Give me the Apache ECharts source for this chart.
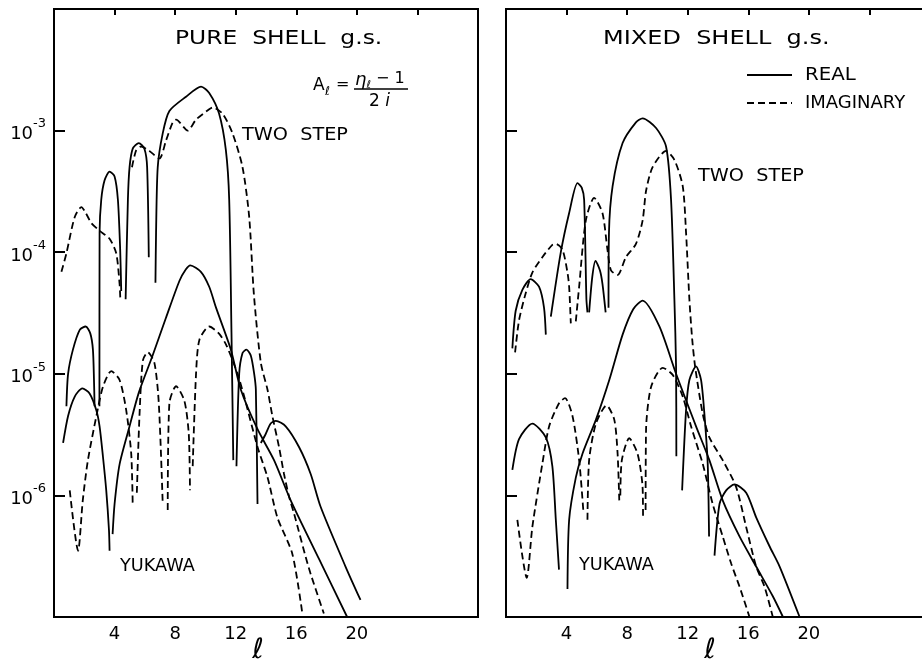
<!DOCTYPE html>
<html>
<head>
<meta charset="utf-8">
<script src="https://cdn.jsdelivr.net/npm/echarts@6/dist/echarts.min.js"></script>
<style>
  html, body { margin: 0; padding: 0; background: #fff; }
  #chart { width: 922px; height: 664px; }
</style>
</head>
<body>
<div id="chart"></div>
<script>
// Partial-wave amplitudes |A_l| versus l, log scale.
// Each curve is a list of strokes; each stroke is a list of [l, |A_l|] points.

const xTickLabels = [4, 8, 12, 16, 20];
const yLabelExponents = [-3, -4, -5, -6];

// PURE SHELL g.s.
const pureTwoStepReal = [
  [[0.82, 5.4e-6], [0.93, 1.0e-5], [1.25, 1.58e-5], [1.7, 2.3e-5], [2.09, 2.45e-5], [2.4, 2.14e-5], [2.57, 1.58e-5], [2.64, 8.9e-6], [2.68, 5.4e-6]],
  [[3.0, 5.4e-6], [3.01, 1.45e-4], [3.12, 2.7e-4], [3.34, 3.9e-4], [3.67, 4.6e-4], [4.0, 4.2e-4], [4.22, 2.7e-4], [4.37, 1.05e-4], [4.44, 4.8e-5]],
  [[4.73, 4.1e-5], [4.88, 2.7e-4], [4.99, 5.0e-4], [5.2, 7.1e-4], [5.6, 7.9e-4], [5.97, 7.1e-4], [6.15, 5.0e-4], [6.26, 9.1e-5]],
  [[6.7, 5.6e-5], [6.74, 1.45e-4], [6.85, 5.0e-4], [7.18, 9.5e-4], [7.62, 1.45e-3], [8.72, 1.9e-3], [9.71, 2.3e-3], [10.25, 2.04e-3], [10.9, 1.38e-3], [11.35, 6.9e-4], [11.57, 2.7e-4], [11.72, 2.2e-5], [11.84, 1.95e-6]],
  [[12.05, 1.74e-6], [12.23, 1.0e-5], [12.45, 1.48e-5], [12.71, 1.58e-5], [13.0, 1.41e-5], [13.22, 1.0e-5], [13.33, 7.4e-6], [13.44, 8.5e-7]],
  [[13.66, 2.7e-6], [13.98, 3.2e-6], [14.31, 3.9e-6], [14.65, 4.1e-6], [15.3, 3.7e-6], [16.18, 2.5e-6], [16.95, 1.5e-6], [17.6, 8.1e-7], [19.25, 2.6e-7], [20.24, 1.38e-7]]
];
const pureTwoStepImag = [
  [[0.49, 6.9e-5], [0.82, 9.8e-5], [1.37, 1.95e-4], [1.81, 2.35e-4], [2.1, 2.1e-4], [2.46, 1.74e-4], [3.01, 1.5e-4], [3.67, 1.29e-4], [4.11, 9.8e-5], [4.33, 5.5e-5], [4.38, 4.1e-5]],
  [[5.15, 5.0e-4], [5.43, 6.9e-4], [5.76, 7.4e-4], [6.3, 6.8e-4], [6.96, 5.9e-4], [7.4, 8.3e-4], [7.84, 1.17e-3], [8.06, 1.23e-3], [8.83, 1.0e-3], [9.38, 1.23e-3], [10.25, 1.5e-3], [10.47, 1.55e-3], [11.13, 1.38e-3], [11.79, 9.5e-4], [12.45, 5.0e-4], [12.89, 1.95e-4], [13.2, 4.5e-5], [13.66, 1.23e-5], [14.1, 7.4e-6], [14.42, 4.5e-6], [14.86, 2.5e-6], [15.19, 1.5e-6], [15.52, 9.8e-7], [15.85, 7.1e-7], [16.84, 2.5e-7], [17.82, 1.07e-7]]
];
const pureYukawaReal = [
  [[0.6, 2.7e-6], [0.93, 4.5e-6], [1.37, 6.5e-6], [1.87, 7.6e-6], [2.35, 6.9e-6], [2.8, 5.0e-6], [3.01, 3.7e-6], [3.23, 2.1e-6], [3.45, 1.1e-6], [3.63, 5.2e-7], [3.67, 3.5e-7]],
  [[3.87, 4.8e-7], [4.0, 8.5e-7], [4.33, 1.8e-6], [4.99, 3.7e-6], [5.6, 7.0e-6], [6.5, 1.4e-5], [7.4, 2.9e-5], [8.28, 5.8e-5], [8.7, 7.2e-5], [9.0, 7.8e-5], [9.7, 6.9e-5], [10.25, 5.2e-5], [10.7, 3.5e-5], [11.68, 1.58e-5], [12.34, 7.4e-6], [13.44, 3.5e-6], [14.53, 1.95e-6], [15.63, 9.1e-7], [17.5, 3.0e-7], [19.36, 1.0e-7]]
];
const pureYukawaImag = [
  [[1.04, 1.1e-6], [1.59, 3.5e-7], [1.9, 9.1e-7], [2.24, 1.95e-6], [2.8, 4.5e-6], [3.23, 7.8e-6], [3.78, 1.05e-5], [4.33, 8.9e-6], [4.77, 5.0e-6], [5.1, 2.2e-6], [5.2, 8.1e-7]],
  [[5.47, 1.05e-6], [5.65, 4.7e-6], [5.87, 1.29e-5], [6.19, 1.5e-5], [6.63, 1.23e-5], [6.92, 5.75e-6], [7.18, 8.5e-7]],
  [[7.51, 7.6e-7], [7.62, 5.75e-6], [8.06, 7.9e-6], [8.61, 6.0e-6], [8.9, 3.2e-6], [8.98, 1.1e-6]],
  [[9.16, 1.74e-6], [9.38, 1.0e-5], [9.6, 1.9e-5], [10.25, 2.45e-5], [10.9, 2.14e-5], [11.4, 1.7e-5], [12.12, 1.0e-5], [12.56, 6.5e-6], [13.44, 2.5e-6], [14.1, 1.41e-6], [14.75, 6.6e-7], [15.74, 3.3e-7], [16.4, 1.07e-7]]
];

// MIXED SHELL g.s.
const mixedTwoStepReal = [
  [[0.42, 1.62e-5], [0.64, 3.3e-5], [1.08, 4.9e-5], [1.63, 6.0e-5], [2.18, 5.2e-5], [2.51, 3.5e-5], [2.63, 2.1e-5]],
  [[2.96, 2.95e-5], [3.62, 1.0e-4], [4.17, 2.1e-4], [4.72, 3.7e-4], [5.0, 3.4e-4], [5.16, 2.7e-4], [5.31, 4.1e-5], [5.38, 3.2e-5]],
  [[5.49, 3.2e-5], [5.7, 6.3e-5], [5.91, 8.5e-5], [6.2, 7.1e-5], [6.37, 5.5e-5], [6.58, 3.2e-5]],
  [[6.77, 3.5e-5], [6.8, 1.45e-4], [7.04, 3.5e-4], [7.7, 7.9e-4], [8.58, 1.17e-3], [9.02, 1.26e-3], [9.91, 1.05e-3], [10.57, 7.4e-4], [10.9, 2.7e-4], [11.12, 4.1e-5], [11.23, 1.15e-5], [11.25, 2.1e-6]],
  [[11.63, 1.1e-6], [11.89, 5.0e-6], [12.11, 8.9e-6], [12.55, 1.15e-5], [12.88, 8.9e-6], [13.1, 4.7e-6], [13.32, 1.82e-6], [13.41, 4.6e-7]],
  [[13.77, 3.2e-7], [14.1, 8.5e-7], [14.54, 1.1e-6], [15.09, 1.23e-6], [15.86, 1.05e-6], [16.52, 6.6e-7], [17.41, 3.8e-7], [18.07, 2.6e-7], [19.39, 1.0e-7]]
];
const mixedTwoStepImag = [
  [[0.6, 1.5e-5], [0.86, 2.75e-5], [1.3, 4.6e-5], [1.74, 6.8e-5], [2.4, 9.1e-5], [3.06, 1.15e-4], [3.29, 1.17e-4], [3.73, 1.05e-4], [4.06, 6.8e-5], [4.17, 5.2e-5], [4.28, 2.6e-5]],
  [[4.61, 2.7e-5], [4.83, 5.2e-5], [5.27, 1.82e-4], [5.82, 2.8e-4], [6.37, 2.1e-4], [6.7, 1.05e-4], [6.93, 7.1e-5], [7.37, 6.5e-5], [7.92, 9.1e-5], [8.58, 1.17e-4], [9.02, 1.82e-4], [9.25, 3.2e-4], [9.68, 5.0e-4], [10.57, 6.8e-4], [11.12, 5.75e-4], [11.67, 3.5e-4], [11.89, 1.45e-4], [12.11, 4.1e-5], [12.3, 1.9e-5], [12.5, 1.12e-5], [12.99, 4.7e-6], [13.43, 3.0e-6], [14.31, 1.95e-6], [15.2, 1.17e-6], [15.86, 5.5e-7], [16.52, 2.6e-7], [17.07, 1.78e-7], [17.62, 1.0e-7]]
];
const mixedYukawaReal = [
  [[0.42, 1.62e-6], [0.86, 2.9e-6], [1.74, 3.9e-6], [2.63, 3.0e-6], [3.06, 1.74e-6], [3.29, 6.3e-7], [3.5, 2.45e-7]],
  [[4.06, 1.7e-7], [4.17, 6.3e-7], [4.61, 1.4e-6], [5.05, 2.2e-6], [5.94, 4.2e-6], [6.82, 8.9e-6], [7.7, 2.1e-5], [8.4, 3.4e-5], [9.02, 4.0e-5], [10.13, 2.45e-5], [11.23, 1.0e-5], [12.55, 3.7e-6], [13.43, 1.95e-6], [14.31, 9.1e-7], [15.42, 4.6e-7], [16.52, 2.6e-7], [17.62, 1.48e-7], [18.29, 1.0e-7]]
];
const mixedYukawaImag = [
  [[0.75, 6.3e-7], [1.37, 2.1e-7], [1.74, 5.5e-7], [2.4, 1.82e-6], [2.85, 3.7e-6], [3.51, 5.75e-6], [3.9, 6.3e-6], [4.39, 4.5e-6], [4.83, 1.95e-6], [5.12, 7.1e-7]],
  [[5.38, 6.3e-7], [5.49, 1.95e-6], [5.94, 3.9e-6], [6.64, 5.5e-6], [7.15, 4.2e-6], [7.37, 2.2e-6], [7.48, 9.1e-7]],
  [[7.55, 1.0e-6], [7.65, 1.95e-6], [8.14, 2.95e-6], [8.69, 2.2e-6], [9.02, 1.17e-6], [9.05, 6.3e-7]],
  [[9.22, 7.6e-7], [9.25, 3.5e-6], [9.58, 7.8e-6], [10.35, 1.12e-5], [11.01, 9.8e-6], [11.67, 6.5e-6], [12.22, 3.7e-6], [12.99, 1.82e-6], [13.65, 8.5e-7], [14.31, 4.6e-7], [14.87, 2.75e-7], [15.42, 1.78e-7], [16.08, 1.0e-7]]
];

const INK = '#000';
const FONT = '"DejaVu Sans", "Liberation Sans", sans-serif';
const solidStyle = { color: INK, width: 1.8, type: 'solid' };
const dashedStyle = { color: INK, width: 1.8, type: [7, 4] };

function strokeSeries(curve, panel, kind) {
  return curve.map(points => ({
    type: 'line',
    name: kind,
    xAxisIndex: panel * 2,
    yAxisIndex: panel,
    data: points,
    symbol: 'none',
    showSymbol: false,
    smooth: 0.25,
    color: INK,
    lineStyle: kind === 'REAL' ? solidStyle : dashedStyle,
    silent: true,
    animation: false
  }));
}

const series = [].concat(
  strokeSeries(pureTwoStepReal, 0, 'REAL'),
  strokeSeries(pureTwoStepImag, 0, 'IMAGINARY'),
  strokeSeries(pureYukawaReal, 0, 'REAL'),
  strokeSeries(pureYukawaImag, 0, 'IMAGINARY'),
  strokeSeries(mixedTwoStepReal, 1, 'REAL'),
  strokeSeries(mixedTwoStepImag, 1, 'IMAGINARY'),
  strokeSeries(mixedYukawaReal, 1, 'REAL'),
  strokeSeries(mixedYukawaImag, 1, 'IMAGINARY')
);

function bottomAxis(grid) {
  return {
    type: 'value', gridIndex: grid, position: 'bottom',
    min: 0, max: 28, interval: 4,
    axisLine: { show: false }, axisTick: { show: false }, splitLine: { show: false },
    axisLabel: {
      margin: 8, color: INK, fontSize: 18, fontFamily: FONT,
      formatter: v => xTickLabels.includes(v) ? String(v) : ''
    }
  };
}
function topAxis(grid) {
  return {
    type: 'value', gridIndex: grid, position: 'top',
    min: 0, max: 28, interval: 4,
    axisLine: { show: false }, splitLine: { show: false }, axisLabel: { show: false },
    axisTick: { show: true, inside: true, length: 6, lineStyle: { color: INK, width: 2 } }
  };
}
function logAxis(grid, labelled) {
  return {
    type: 'log', logBase: 10, gridIndex: grid,
    min: 1e-7, max: 1e-2,
    axisLine: { show: false }, splitLine: { show: false },
    axisTick: { show: true, inside: true, length: 11, lineStyle: { color: INK, width: 2 } },
    axisLabel: {
      show: labelled, margin: 8, color: INK, fontFamily: FONT,
      formatter: v => {
        const e = Math.round(Math.log10(v));
        return yLabelExponents.includes(e) ? '{b|10}{s|' + e + '}' : '';
      },
      rich: {
        b: { fontSize: 18, fontFamily: FONT, color: INK, lineHeight: 26, verticalAlign: 'bottom' },
        s: { fontSize: 13, fontFamily: FONT, color: INK, lineHeight: 26, verticalAlign: 'top' }
      }
    }
  };
}

function label(text, x, y, size, scaleX) {
  return {
    type: 'text', x: x, y: y, scaleX: scaleX || 1, silent: true,
    style: { text: text, font: size + 'px ' + FONT, fill: INK, textAlign: 'left', textVerticalAlign: 'middle' }
  };
}

const graphic = [
  label('PURE  SHELL  g.s.', 175, 39, 20, 1.17),
  label('MIXED  SHELL  g.s.', 603, 39, 20, 1.2),
  label('TWO  STEP', 242, 135, 18, 1.07),
  label('TWO  STEP', 698, 176, 18, 1.07),
  label('YUKAWA', 120, 567, 17, 1.04),
  label('YUKAWA', 579, 566, 17, 1.04),
  // legend: line style key
  { type: 'line', silent: true, shape: { x1: 747, y1: 75, x2: 792, y2: 75 }, style: { stroke: INK, lineWidth: 1.8 } },
  { type: 'line', silent: true, shape: { x1: 747, y1: 103, x2: 792, y2: 103 }, style: { stroke: INK, lineWidth: 1.8, lineDash: [7, 4] } },
  label('REAL', 805, 75, 18, 1.1),
  label('IMAGINARY', 805, 103, 18, 1.0),
  // A_l = (eta_l - 1) / 2i
  label('A', 313, 86, 17, 1),
  label('ℓ', 325, 92, 12, 1),
  label('=', 336, 85, 16, 1),
  {
    type: 'text', x: 355, y: 81, silent: true,
    style: {
      text: '{e|η}{l|ℓ}{n| − 1}', fill: INK, textAlign: 'left', textVerticalAlign: 'middle',
      rich: {
        e: { font: 'italic 18px ' + FONT, fill: INK, lineHeight: 20, verticalAlign: 'top' },
        l: { font: '11px ' + FONT, fill: INK, lineHeight: 20, verticalAlign: 'bottom' },
        n: { font: '16px ' + FONT, fill: INK, lineHeight: 20, verticalAlign: 'top' }
      }
    }
  },
  { type: 'line', silent: true, shape: { x1: 354, y1: 89, x2: 408, y2: 89 }, style: { stroke: INK, lineWidth: 1.6 } },
  {
    type: 'text', x: 369, y: 102, silent: true,
    style: {
      text: '{d|2}{i| i}', fill: INK, textAlign: 'left', textVerticalAlign: 'middle',
      rich: { d: { font: '17px ' + FONT, fill: INK }, i: { font: 'italic 17px ' + FONT, fill: INK } }
    }
  },
  // axis variable under each panel
  { type: 'text', x: 258, y: 651, silent: true, style: { text: 'ℓ', font: 'italic 28px ' + FONT, fill: INK, textAlign: 'center', textVerticalAlign: 'middle' } },
  { type: 'text', x: 710, y: 651, silent: true, style: { text: 'ℓ', font: 'italic 28px ' + FONT, fill: INK, textAlign: 'center', textVerticalAlign: 'middle' } }
];

const chart = echarts.init(document.getElementById('chart'), null, { renderer: 'canvas' });
chart.setOption({
  backgroundColor: '#fff',
  animation: false,
  grid: [
    { left: 54, right: 444, top: 9, bottom: 47, outerBoundsMode: 'none', show: true, borderColor: INK, borderWidth: 2, backgroundColor: 'transparent' },
    { left: 506, right: -8, top: 9, bottom: 47, outerBoundsMode: 'none', show: true, borderColor: INK, borderWidth: 2, backgroundColor: 'transparent' }
  ],
  xAxis: [bottomAxis(0), topAxis(0), bottomAxis(1), topAxis(1)],
  yAxis: [logAxis(0, true), logAxis(1, false)],
  graphic: graphic,
  series: series
});
</script>
</body>
</html>
